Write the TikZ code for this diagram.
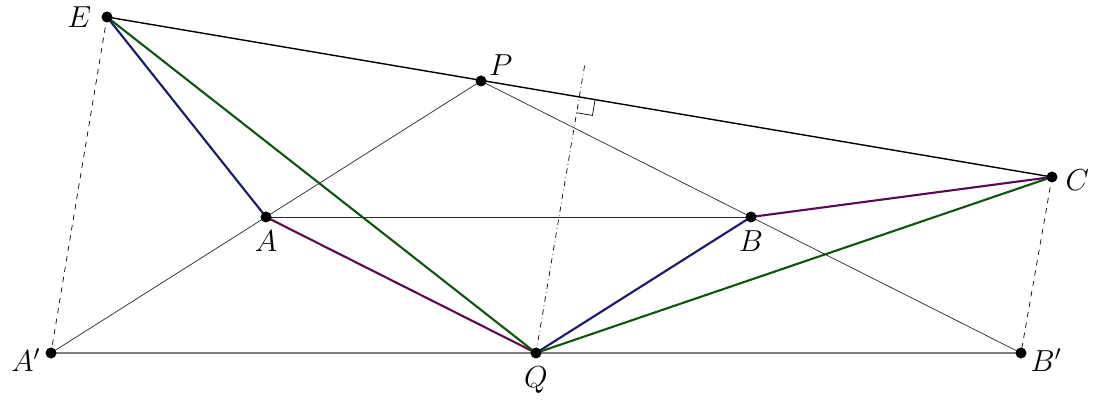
\documentclass[tikz,border=0pt]{standalone}
\usepackage{amsmath}
\usepackage{xcolor}
\usetikzlibrary{calc,positioning}
\definecolor{navyline}{RGB}{25,25,110}
\definecolor{purpleline}{RGB}{90,10,85}
\definecolor{greenline}{RGB}{15,85,15}

\begin{document}
\begin{tikzpicture}
  \tikzstyle{pt}=[circle, fill=black, inner sep=0pt, minimum size=0.22cm]
  \tikzstyle{lab}=[font=\LARGE, inner sep=2pt]
  \tikzstyle{aux}=[thin, black!85]
  \tikzstyle{seg}=[very thick]
  \useasboundingbox (0,0) rectangle (22,8);

  % Puntos
  \coordinate (P) at (9.62,6.38);
  \coordinate (A) at (5.32,3.66);
  \coordinate (B) at (15.02,3.66);
  \coordinate (A1) at ($2*(A)-(P)$);
  \coordinate (B1) at ($2*(B)-(P)$);
  \coordinate (Q) at ($(A1)!0.5!(B1)$);
  \coordinate (E) at (2.14,7.66);
  \coordinate (C) at (21.04,4.46);
  \coordinate (F) at ($(E)!(Q)!(C)$);
  \coordinate (T) at ($(Q)!1.13!(F)$);

  % Lineas auxiliares
  \draw[gray, semithick] (A1) -- (B1);
  \draw[aux] (A1) -- (P) -- (B1);
  \draw[aux] (A) -- (B);
  \draw[thick] (E) -- (C);
  \draw[thin, dashed] (E) -- (A1);
  \draw[thin, dashed] (C) -- (B1);
  \draw[thin, dash dot] (Q) -- (T);

  % Angulo recto
  \coordinate (F1) at ($(F)!0.32cm!(C)$);
  \coordinate (F2) at ($(F)!0.32cm!(Q)$);
  \draw[thin] (F1) -- ($(F1)+(F2)-(F)$) -- (F2);

  % Segmentos de color
  \draw[seg, navyline] (E) -- (A);
  \draw[seg, navyline] (B) -- (Q);
  \draw[seg, purpleline] (A) -- (Q);
  \draw[seg, purpleline] (B) -- (C);
  \draw[seg, greenline] (E) -- (Q);
  \draw[seg, greenline] (Q) -- (C);

  % Nodos
  \node[pt] (e) at (E) {};
  \node[pt] (p) at (P) {};
  \node[pt] (c) at (C) {};
  \node[pt] (a) at (A) {};
  \node[pt] (b) at (B) {};
  \node[pt] (a1) at (A1) {};
  \node[pt] (q) at (Q) {};
  \node[pt] (b1) at (B1) {};

  % Etiquetas
  \node[lab, left=0.12cm of e] {$E$};
  \node[lab, above right=-0.05cm and 0.0cm of p] {$P$};
  \node[lab, right=0.08cm of c, yshift=-2pt] {$C$};
  \node[lab, below=0.08cm of a] {$A$};
  \node[lab, below=0.08cm of b] {$B$};
  \node[lab, left=0.02cm of a1, yshift=-4pt] {$A'$};
  \node[lab, below=0.08cm of q] {$Q$};
  \node[lab, right=0.0cm of b1, yshift=-4pt] {$B'$};
\end{tikzpicture}
\end{document}
